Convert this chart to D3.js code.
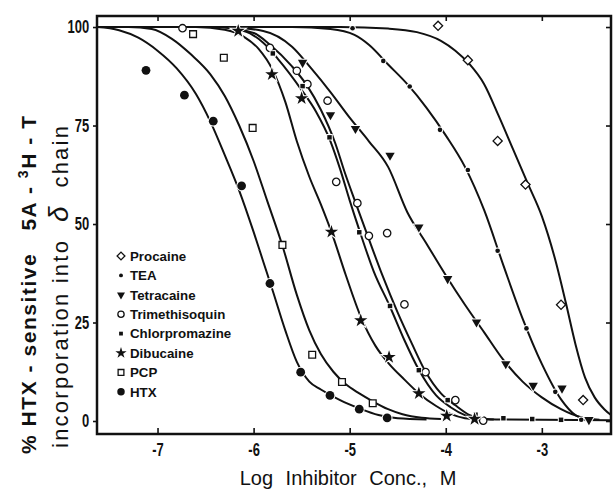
<!DOCTYPE html>
<html>
<head>
<meta charset="utf-8">
<style>
  body { margin: 0; background: #fff; }
  svg { display: block; }
  .tick text { font: bold 18px "Liberation Sans", sans-serif; }
  .legend text { font: bold 13.3px "Liberation Sans", sans-serif; }
  .ytitle text { white-space: pre; font-family: "Liberation Sans", sans-serif; }
  .xtitle { white-space: pre; font: 20px "Liberation Sans", sans-serif; }
</style>
</head>
<body>
<div id="chart-area"></div>
<script src="https://cdn.jsdelivr.net/npm/d3@7"></script>
<script>
const width = 615, height = 489;

const xTicks = [-7, -6, -5, -4, -3];
const yTicks = [0, 25, 50, 75, 100];

const names = ["Procaine", "TEA", "Tetracaine", "Trimethisoquin",
               "Chlorpromazine", "Dibucaine", "PCP", "HTX"];

// measured points: [log conc (M), % incorporation]
const procainePts = [[-4.08, 100.3], [-3.77, 91.6], [-3.46, 71.1], [-3.17, 60.0], [-2.80, 29.5], [-2.57, 5.3]];
const teaPts = [[-4.97, 99.7], [-4.65, 91.4], [-4.375, 84.9], [-4.06, 73.9], [-3.77, 63.7],
                [-3.46, 43.2], [-3.16, 23.5], [-2.86, 7.4], [-2.59, 0.3]];
const tetracainePts = [[-5.49, 91.0], [-5.20, 77.7], [-4.94, 74.2], [-4.58, 67.4], [-4.28, 49.2],
                       [-3.98, 36.1], [-3.68, 25.1], [-3.375, 14.5], [-3.09, 9.0], [-2.79, 8.3], [-2.51, 0.3]];
const trimethPts = [[-6.74, 99.7], [-5.83, 94.7], [-5.55, 88.9], [-5.44, 85.5], [-5.23, 81.3],
                    [-5.14, 60.7], [-4.92, 55.3], [-4.80, 47.0], [-4.61, 47.7], [-4.43, 29.6],
                    [-4.21, 12.4], [-3.90, 5.3], [-3.61, 0.1]];
const chlorproPts = [[-5.80, 93.3], [-5.49, 85.0], [-5.21, 72.0], [-4.90, 47.9], [-4.58, 29.2],
                     [-4.28, 12.9], [-3.98, 5.3], [-3.69, 1.6], [-3.40, 0.7], [-3.10, 0.5], [-2.80, 0.3]];
const dibucainePts = [[-6.16, 99.0], [-5.81, 88.0], [-5.50, 81.9], [-5.19, 48.0], [-4.885, 25.5],
                      [-4.59, 16.2], [-4.28, 7.0], [-3.99, 1.3], [-3.70, 0.5]];
const pcpPts = [[-6.63, 98.2], [-6.31, 92.2], [-6.01, 74.4], [-5.70, 44.7], [-5.39, 16.8],
                [-5.08, 9.9], [-4.76, 4.5]];
const htxPts = [[-7.12, 89.0], [-6.72, 82.7], [-6.42, 76.1], [-6.125, 59.7], [-5.83, 34.9],
                [-5.51, 12.4], [-5.205, 6.5], [-4.90, 3.0], [-4.61, 0.8]];

// fitted curves
const procaineFit = [[-7.63, 100], [-5.1, 100], [-4.6, 99.6], [-4.3, 98.7], [-4.05, 96.5], [-3.9, 94],
                     [-3.75, 90.5], [-3.6, 85.5], [-3.45, 77.5], [-3.3, 69], [-3.15, 60.5], [-3.0, 52],
                     [-2.85, 40], [-2.75, 30], [-2.65, 19.5], [-2.55, 11], [-2.45, 6], [-2.35, 3], [-2.28, 1.5]];
const teaFit = [[-7.63, 100], [-5.6, 100], [-5.2, 99.5], [-4.95, 98], [-4.8, 95.5], [-4.6, 90.5],
                [-4.4, 85.5], [-4.2, 79.5], [-4.0, 72.5], [-3.8, 64.5], [-3.6, 53.5], [-3.4, 39.5],
                [-3.2, 26], [-3.0, 14.5], [-2.8, 5.5], [-2.65, 1.5], [-2.5, 0.3]];
const tetracaineFit = [[-7.63, 100], [-6.3, 100], [-5.9, 99], [-5.6, 95], [-5.4, 89.5], [-5.2, 83.5],
                       [-5.0, 77], [-4.8, 71], [-4.6, 64.5], [-4.4, 53], [-4.2, 45], [-4.0, 37],
                       [-3.8, 29.5], [-3.6, 22.5], [-3.4, 15.5], [-3.2, 10], [-3.0, 6], [-2.8, 3],
                       [-2.6, 1], [-2.4, 0.3]];
const trimethFit = [[-7.63, 100], [-6.4, 100], [-6.0, 98.5], [-5.83, 95.5], [-5.6, 90], [-5.44, 85],
                    [-5.3, 79], [-5.15, 70.5], [-5.05, 63], [-4.94, 55.5], [-4.82, 47.5], [-4.66, 37],
                    [-4.5, 27.5], [-4.35, 19.5], [-4.21, 12.5], [-4.05, 7], [-3.9, 4], [-3.75, 1.5],
                    [-3.62, 0.6], [-3.5, 0.4]];
const chlorproFit = [[-7.63, 100], [-6.4, 100], [-6.1, 99], [-5.9, 96], [-5.75, 92], [-5.5, 84],
                     [-5.35, 78.5], [-5.2, 71], [-5.1, 64], [-5.0, 56], [-4.9, 48.5], [-4.75, 38],
                     [-4.58, 29], [-4.43, 20.5], [-4.28, 13], [-4.1, 6.5], [-3.95, 3.5], [-3.8, 1.5],
                     [-3.65, 0.6], [-3.4, 0.4], [-2.28, 0.2]];
const dibucaineFit = [[-7.63, 100], [-6.6, 100], [-6.3, 99.3], [-6.1, 97.5], [-5.95, 94.5], [-5.8, 89],
                      [-5.67, 81], [-5.55, 71], [-5.42, 62], [-5.3, 55], [-5.19, 48], [-5.04, 37],
                      [-4.885, 26.5], [-4.73, 19], [-4.59, 14.5], [-4.43, 10.5], [-4.28, 7], [-4.1, 3.8],
                      [-3.95, 1.8], [-3.8, 0.7], [-3.65, 0.4]];
const pcpFit = [[-7.63, 100], [-7.3, 100], [-7.06, 99.5], [-6.85, 97], [-6.65, 93], [-6.45, 88],
                [-6.3, 82.5], [-6.15, 75], [-6.0, 66], [-5.86, 56], [-5.70, 44.5], [-5.55, 32],
                [-5.42, 23], [-5.3, 17], [-5.17, 12.5], [-5.04, 9.3], [-4.9, 7], [-4.76, 5],
                [-4.6, 3], [-4.45, 1.7], [-4.25, 0.8], [-4.05, 0.5]];
const htxFit = [[-7.63, 100], [-7.4, 99.2], [-7.2, 97.3], [-7.0, 94], [-6.8, 89.5], [-6.6, 83],
                [-6.45, 76], [-6.3, 67.5], [-6.15, 58.5], [-6.0, 48], [-5.9, 40.5], [-5.8, 33],
                [-5.67, 23], [-5.55, 15], [-5.42, 10], [-5.3, 8], [-5.1, 5.3], [-4.9, 3.2],
                [-4.7, 1.5], [-4.5, 0.7], [-4.2, 0.4]];

const series = [
  {name: names[0], pts: procainePts, fit: procaineFit, mark: "diamond"},
  {name: names[1], pts: teaPts, fit: teaFit, mark: "dot"},
  {name: names[2], pts: tetracainePts, fit: tetracaineFit, mark: "tri"},
  {name: names[3], pts: trimethPts, fit: trimethFit, mark: "ocircle"},
  {name: names[4], pts: chlorproPts, fit: chlorproFit, mark: "sq"},
  {name: names[5], pts: dibucainePts, fit: dibucaineFit, mark: "star"},
  {name: names[6], pts: pcpPts, fit: pcpFit, mark: "osq"},
  {name: names[7], pts: htxPts, fit: htxFit, mark: "circle"}
];

const svg = d3.select("#chart-area")
  .append("svg")
    .attr("width", width)
    .attr("height", height);

const x = d3.scaleLinear().domain([-7.63, -2.28]).range([97, 611]);
const y = d3.scaleLinear().domain([-3.3, 102.8]).range([434, 16]);

const line = d3.line()
  .x(d => x(d[0]))
  .y(d => y(d[1]))
  .curve(d3.curveMonotoneX);

const plot = svg.append("g");
plot.append("defs").append("clipPath").attr("id", "clip")
  .append("rect").attr("x", 97).attr("y", 16).attr("width", 514).attr("height", 418);

plot.append("g").attr("clip-path", "url(#clip)")
  .selectAll("path")
  .data(series)
  .join("path")
    .attr("d", d => line(d.fit))
    .attr("fill", "none")
    .attr("stroke", "#111")
    .attr("stroke-width", 2);

// draw one marker of a given kind into g
function marker(g, kind, k) {
  const halo = s => s.attr("stroke", "#fff").attr("stroke-width", 2).style("paint-order", "stroke");
  if (kind === "diamond") {
    g.append("path").attr("d", d3.symbol(d3.symbolSquare, 42 * k * k)())
      .attr("transform", "rotate(45)").attr("fill", "#fff").attr("stroke", "#111").attr("stroke-width", 1.3);
  } else if (kind === "dot") {
    halo(g.append("circle").attr("r", 2.3 * k).attr("fill", "#111"));
  } else if (kind === "tri") {
    halo(g.append("path").attr("d", d3.symbol(d3.symbolTriangle, 38 * k * k)())
      .attr("transform", "rotate(180)").attr("fill", "#111"));
  } else if (kind === "ocircle") {
    g.append("circle").attr("r", 3.7 * k).attr("fill", "#fff").attr("stroke", "#111").attr("stroke-width", 1.3);
  } else if (kind === "sq") {
    halo(g.append("path").attr("d", d3.symbol(d3.symbolSquare, 20 * k * k)()).attr("fill", "#111"));
  } else if (kind === "star") {
    halo(g.append("path").attr("d", d3.symbol(d3.symbolStar, 55 * k * k)()).attr("fill", "#111"));
  } else if (kind === "osq") {
    g.append("path").attr("d", d3.symbol(d3.symbolSquare, 46 * k * k)())
      .attr("fill", "#fff").attr("stroke", "#111").attr("stroke-width", 1.3);
  } else if (kind === "circle") {
    halo(g.append("circle").attr("r", 4.4 * k).attr("fill", "#111"));
  }
}

series.forEach(s => {
  plot.append("g").selectAll("g")
    .data(s.pts)
    .join("g")
      .attr("transform", d => `translate(${x(d[0])},${y(d[1])})`)
      .each(function() { marker(d3.select(this), s.mark, 1); });
});

// frame
svg.append("rect")
  .attr("x", 97).attr("y", 16).attr("width", 514).attr("height", 418)
  .attr("fill", "none").attr("stroke", "#111").attr("stroke-width", 2.5);

const fmt = d => "-" + Math.abs(d);

const axB = svg.append("g").attr("transform", "translate(0,434)")
  .call(d3.axisBottom(x).tickValues(xTicks).tickSizeInner(-6).tickSizeOuter(0).tickPadding(9).tickFormat(fmt));
const axT = svg.append("g").attr("transform", "translate(0,16)")
  .call(d3.axisTop(x).tickValues(xTicks).tickSizeInner(-5).tickSizeOuter(0).tickFormat(""));
const axL = svg.append("g").attr("transform", "translate(97,0)")
  .call(d3.axisLeft(y).tickValues(yTicks).tickSizeInner(4).tickSizeOuter(0).tickPadding(7));
const axR = svg.append("g").attr("transform", "translate(611,0)")
  .call(d3.axisRight(y).tickValues(yTicks).tickSizeInner(-5).tickSizeOuter(0).tickFormat(""));

[axB, axT, axL, axR].forEach(a => {
  a.select(".domain").remove();
  a.selectAll(".tick line").attr("stroke", "#111").attr("stroke-width", 1.6);
  a.selectAll(".tick text").attr("fill", "#111").attr("transform", "scale(0.72,1)");
});

// legend
const legend = svg.append("g").attr("class", "legend")
  .attr("transform", "translate(121,256)");
const item = legend.selectAll("g")
  .data(series)
  .join("g")
    .attr("transform", (d, i) => `translate(0,${i * 19.4})`);
item.each(function(d) { marker(d3.select(this), d.mark, 0.85); });
item.append("text")
  .attr("x", 9)
  .attr("dy", "0.36em")
  .attr("fill", "#111")
  .text(d => d.name);

// axis titles
svg.append("text").attr("class", "xtitle")
  .attr("x", 348).attr("y", 485)
  .attr("text-anchor", "middle")
  .attr("fill", "#111")
  .attr("word-spacing", 7)
  .text("Log Inhibitor Conc., M");

const yt = svg.append("g").attr("class", "ytitle");
const t1 = yt.append("text")
  .attr("transform", "translate(36,285) rotate(-90)")
  .attr("text-anchor", "middle")
  .attr("font-weight", "bold")
  .attr("font-size", 21)
  .attr("textLength", 338)
  .attr("lengthAdjust", "spacing")
  .attr("fill", "#111");
t1.append("tspan").text("% HTX - sensitive   5A - ");
t1.append("tspan").attr("dy", -8).attr("font-size", 14).text("3");
t1.append("tspan").attr("dy", 8).text("H - T");

const t2 = yt.append("text")
  .attr("transform", "translate(68,287) rotate(-90)")
  .attr("text-anchor", "middle")
  .attr("font-size", 22)
  .attr("textLength", 322)
  .attr("lengthAdjust", "spacing")
  .attr("fill", "#111");
t2.append("tspan").text("incorporation into  ");
t2.append("tspan").attr("font-size", 28).attr("font-style", "italic").text("δ");
t2.append("tspan").text("  chain");
</script>
</body>
</html>
